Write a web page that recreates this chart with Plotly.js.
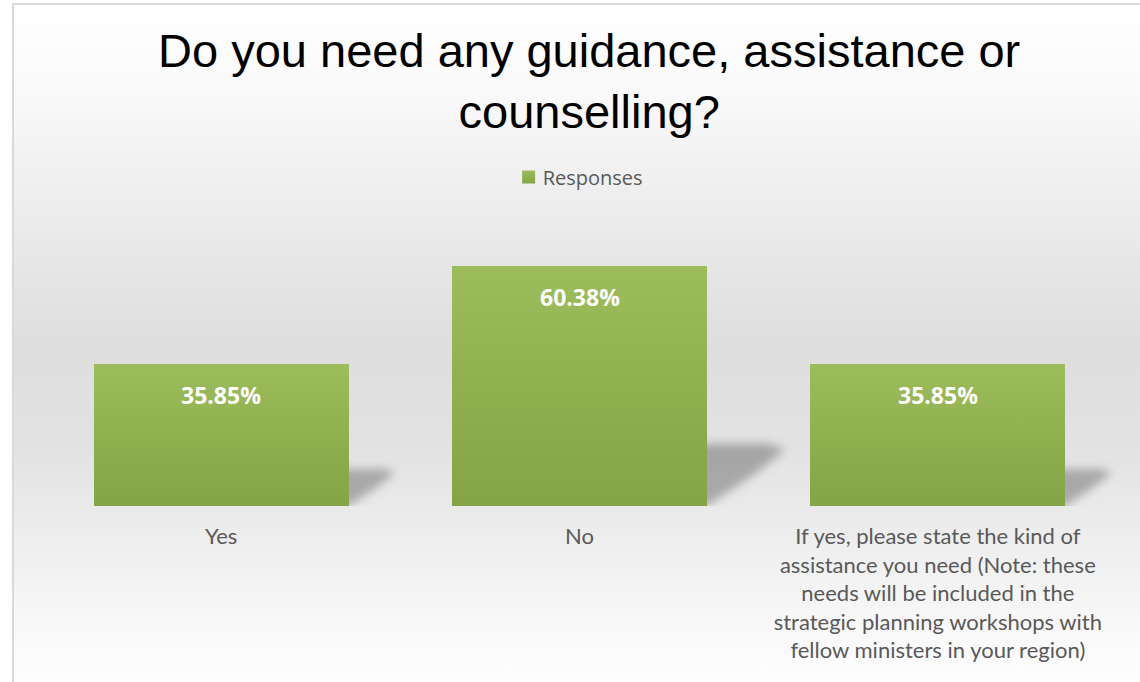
<!DOCTYPE html>
<html>
<head>
<meta charset="utf-8">
<script src="https://cdn.plot.ly/plotly-3.0.1.min.js"></script>
<style>
  html, body { margin: 0; padding: 0; width: 1140px; height: 682px; overflow: hidden; background: #ffffff; }
  #frame {
    position: absolute; left: 12px; top: 3px; width: 1140px; height: 700px;
    border: 2px solid #d9d9d9; box-sizing: border-box;
    background: linear-gradient(to bottom, #ffffff 0px, #f9f9f9 90px, #eeeeee 190px, #dedede 340px, #e2e2e2 440px, #ececec 520px, #f7f7f7 610px, #ffffff 690px);
  }
  #chart { position: absolute; left: 0; top: 0; width: 1140px; height: 682px; }
</style>
</head>
<body>
<div id="frame"></div>
<div id="chart"></div>
<script>
// ---- data ----
const chartTitle = "Do you need any guidance, assistance or<br>counselling?";
const seriesName = "Responses";
const categories = [
  "Yes",
  "No",
  "If yes, please state the kind of<br>assistance you need (Note: these<br>needs will be included in the<br>strategic planning workshops with<br>fellow ministers in your region)"
];
const values = [35.85, 60.38, 35.85];
const valueLabels = ["35.85%", "60.38%", "35.85%"];

// ---- chart ----
const positions = categories.map((c, i) => i);
const barWidth = 0.712;

const trace = {
  type: "bar",
  name: seriesName,
  x: positions,
  y: values,
  width: barWidth,
  marker: { color: "#92b050", line: { width: 0 } },
  hoverinfo: "none",
  showlegend: true
};

const annotations = values.map((v, i) => ({
  x: positions[i], y: v, xref: "x", yref: "y",
  text: "<b>" + valueLabels[i] + "</b>",
  showarrow: false, yanchor: "middle", yshift: -31,
  font: { family: "Open Sans, sans-serif", size: 23, color: "#ffffff" }
}));

const shapes = values.map((v, i) => {
  const xr = positions[i] + barWidth / 2;
  const dx = v * 0.0036;
  const dy = v * 0.26;
  return {
    type: "path", xref: "x", yref: "y", layer: "below",
    path: `M ${xr - 0.03},0 L ${xr - 0.03},${dy} L ${xr + dx * 0.8},${dy} L ${xr + dx},${dy * 0.9} L ${xr + dx * 0.6},${dy * 0.5} L ${xr},0 Z`,
    fillcolor: "rgba(0,0,0,0.27)", line: { width: 0 }
  };
});

const layout = {
  width: 1140, height: 682, autosize: false,
  paper_bgcolor: "rgba(0,0,0,0)", plot_bgcolor: "rgba(0,0,0,0)",
  margin: { l: 42, r: 23, t: 228, b: 176 },
  title: {
    text: chartTitle,
    font: { family: "Liberation Sans, Arial, sans-serif", size: 47, color: "#000000" },
    x: 0.509, xanchor: "center", xref: "paper",
    y: 1 - 67 / 682, yanchor: "top", yref: "container"
  },
  showlegend: true,
  legend: {
    orientation: "h", x: 0.5045, xanchor: "center", xref: "container",
    y: 1 - 177 / 682, yanchor: "middle", yref: "container",
    font: { family: "Open Sans, sans-serif", size: 20, color: "#595959" },
    bgcolor: "rgba(0,0,0,0)"
  },
  xaxis: {
    range: [-0.5, 2.5], tickmode: "array", tickvals: positions, ticktext: categories,
    showgrid: false, zeroline: false, showline: false, ticks: "",
    ticklabelstandoff: 15,
    tickfont: { family: "Lato, sans-serif", size: 22, color: "#595959" },
    fixedrange: true
  },
  yaxis: { range: [0, 70], visible: false, showgrid: false, zeroline: false, fixedrange: true },
  annotations: annotations,
  shapes: shapes,
  bargap: 0
};

Plotly.newPlot("chart", [trace], layout, { displayModeBar: false, staticPlot: true }).then(gd => {
  const NS = "http://www.w3.org/2000/svg";
  const svg = gd.querySelector("svg.main-svg");
  const defs = document.createElementNS(NS, "defs");
  defs.innerHTML =
    '<linearGradient id="bargradX" x1="0" y1="0" x2="0" y2="1">' +
    '<stop offset="0" stop-color="#9dbc5b"/><stop offset="1" stop-color="#84a445"/></linearGradient>' +
    '<filter id="shblurX" x="-50%" y="-50%" width="200%" height="200%">' +
    '<feGaussianBlur stdDeviation="5"/></filter>';
  svg.insertBefore(defs, svg.firstChild);
  gd.querySelectorAll(".barlayer .point path").forEach(p => { p.style.fill = "url(#bargradX)"; });
  gd.querySelectorAll(".legendpoints path").forEach(p => {
    p.style.fill = "url(#bargradX)";
    p.setAttribute("d", "M-0.5,-6.5h13v13h-13z");
  });
  gd.querySelectorAll(".shapelayer path").forEach(p => { p.setAttribute("filter", "url(#shblurX)"); });
});
</script>
</body>
</html>
